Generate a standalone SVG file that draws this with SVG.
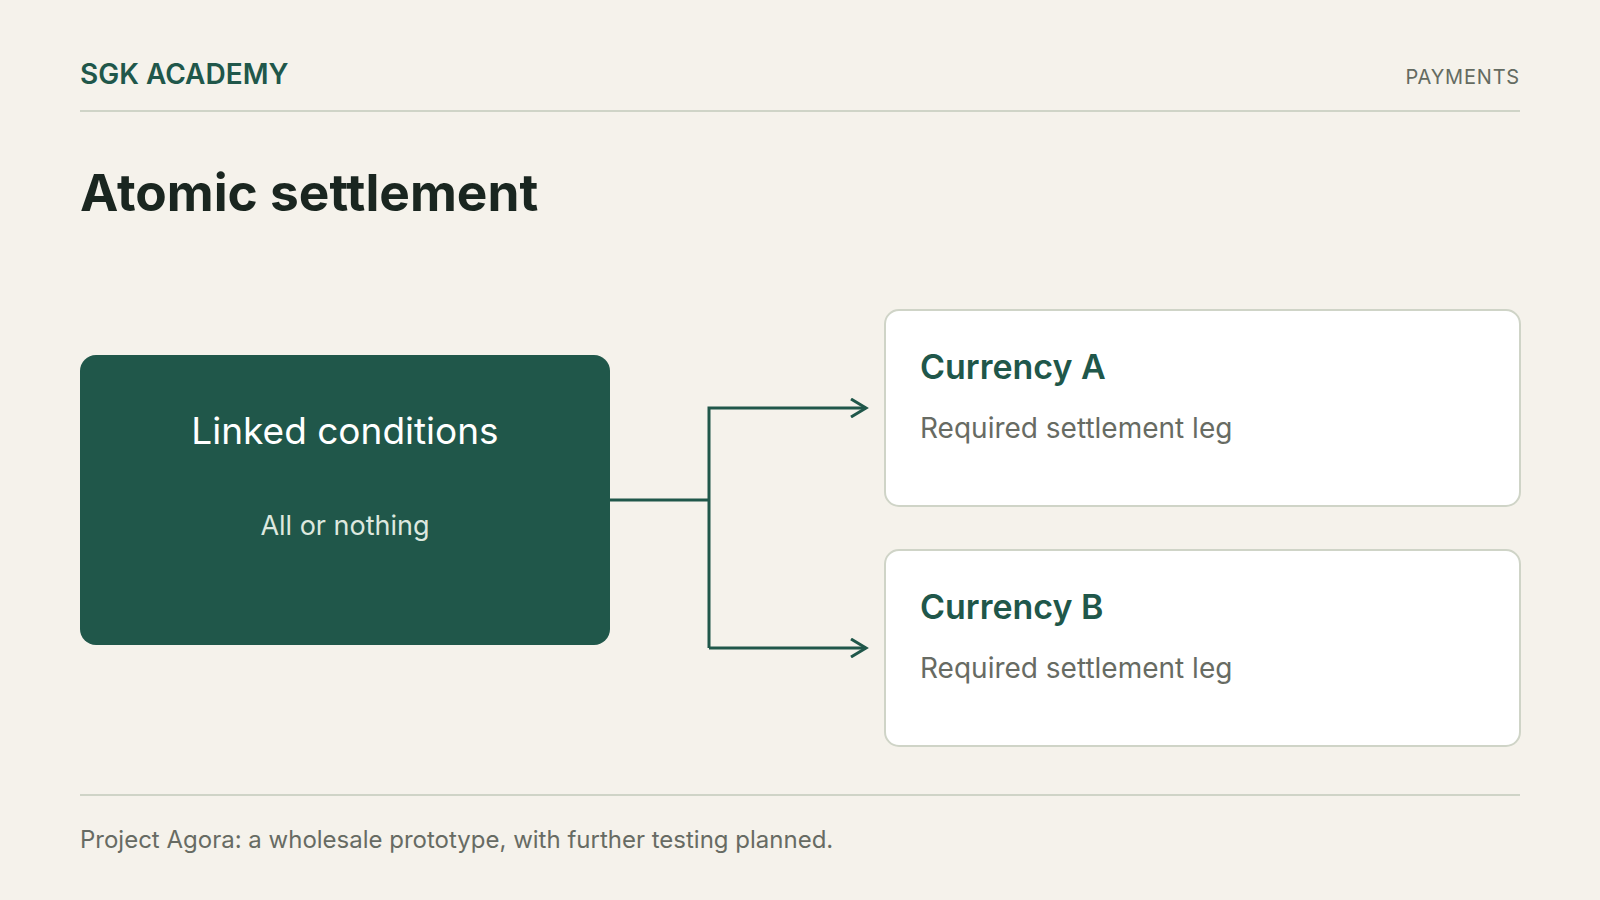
<svg xmlns="http://www.w3.org/2000/svg" width="1600" height="900" viewBox="0 0 1600 900">
<style>
.t{font-family:Inter,"Noto Sans","Liberation Sans",sans-serif}
.rule{stroke:#cfd4c7;stroke-width:2}
.card{fill:#ffffff;stroke:#cfd4c7;stroke-width:2}
.ch{font-size:34px;font-weight:600;fill:#20574a}
.cd{font-size:28px;fill:#676b63}
.conn{fill:none;stroke:#20574a;stroke-width:3}
</style>
<defs>
<marker id="arr" viewBox="0 0 20 20" refX="17" refY="10" markerWidth="20" markerHeight="20" markerUnits="userSpaceOnUse" orient="auto">
<polyline points="2,1 17,10 2,19" fill="none" stroke="#20574a" stroke-width="3"/>
</marker>
</defs>
<rect width="1600" height="900" fill="#f5f2eb"/>
<g id="header">
<text class="t" x="80" y="84" font-size="28" font-weight="600" fill="#20574a">SGK ACADEMY</text>
<text class="t" x="1520" y="84" font-size="20" fill="#646b61" text-anchor="end" letter-spacing="0.8">PAYMENTS</text>
<line class="rule" x1="80" y1="111" x2="1520" y2="111"/>
<text class="t" x="80" y="211" font-size="51.4" font-weight="700" fill="#1a2620">Atomic settlement</text>
</g>
<g id="connectors">
<polyline class="conn" points="610,500 709,500"/>
<polyline class="conn" points="709,648 709,408 866,408" marker-end="url(#arr)"/>
<polyline class="conn" points="709,648 866,648" marker-end="url(#arr)"/>
</g>
<g id="linked">
<rect x="80" y="355" width="530" height="290" rx="16" fill="#20574a"/>
<text class="t" x="345" y="444" font-size="37" fill="#ffffff" text-anchor="middle">Linked conditions</text>
<text class="t" x="345" y="535" font-size="27" fill="#dde8df" text-anchor="middle">All or nothing</text>
</g>
<g id="currencyA">
<rect class="card" x="885" y="310" width="635" height="196" rx="14"/>
<text class="t ch" x="920" y="379">Currency A</text>
<text class="t cd" x="920" y="438">Required settlement leg</text>
</g>
<g id="currencyB">
<rect class="card" x="885" y="550" width="635" height="196" rx="14"/>
<text class="t ch" x="920" y="619">Currency B</text>
<text class="t cd" x="920" y="678">Required settlement leg</text>
</g>
<g id="footer">
<line class="rule" x1="80" y1="795" x2="1520" y2="795"/>
<text class="t" x="80" y="848" font-size="24" fill="#676b63">Project Agora: a wholesale prototype, with further testing planned.</text>
</g>
</svg>
